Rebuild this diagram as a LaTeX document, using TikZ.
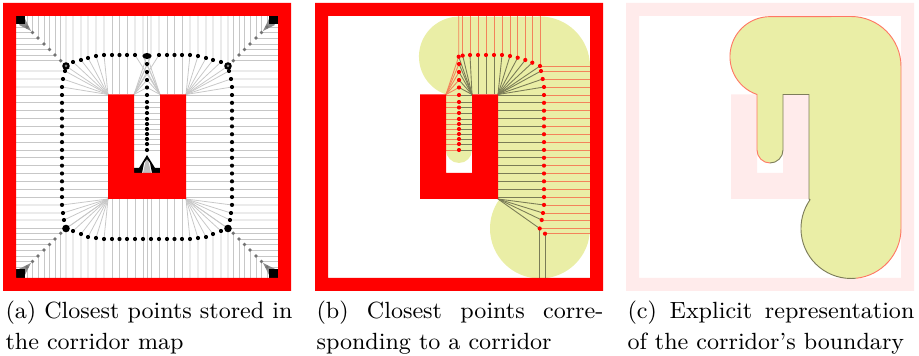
\documentclass[tikz,border=0pt]{standalone}
\definecolor{wallred}{RGB}{255,0,0}
\definecolor{wallpink}{RGB}{255,235,235}
\definecolor{corridoryellow}{RGB}{234,238,166}
\definecolor{edgered}{RGB}{255,120,100}
\definecolor{edgedark}{RGB}{125,125,90}
\tikzset{closest/.style={draw=black!22,line width=0.3pt},
         leftline/.style={draw=red!45!corridoryellow,line width=0.34pt},
         rightline/.style={draw=black!48!corridoryellow,line width=0.34pt},
         captiontext/.style={anchor=north west,inner sep=0pt,text width=111.2pt,align=justify,font=\fontsize{9.08}{12}\selectfont}}
\newcommand{\worldwalls}[1]{\fill[#1,even odd rule] (3,3) rectangle (291,291) (16,16) rectangle (278,278);
    \fill[#1] (108,94.5) -- (134,94.5) -- (134,173) -- (160,173) -- (160,94.5) -- (186,94.5) -- (186,199) -- (108,199) -- cycle;}
\newcommand{\edgeleft}{(147,163) arc (90:180:13) -- (134,94.5) arc (108.9:270:40) -- (228,16.5) arc (270:360:50) -- (278,228.5) arc (0:84:50)}
\newcommand{\edgeright}{(233.2,278.2) arc (84:215:50) -- (186,199) -- (186,94.5) -- (160,94.5) -- (160,150) arc (0:90:13)}
\newcommand{\corridorshape}{(147,163) arc (90:180:13) -- (134,94.5) arc (108.9:270:40) -- (228,16.5) arc (270:360:50) -- (278,228.5) arc (0:215:50) -- (186,199) -- (186,94.5) -- (160,94.5) -- (160,150) arc (0:90:13) -- cycle}
\begin{document}
\begin{tikzpicture}[x=0.3876pt,y=-0.3876pt]
  \useasboundingbox (0,0) rectangle (919,356);
  % closest points stored in the map
  \foreach \m in {-1,1} {
    \foreach \y in {95,102.85,...,197.1} \draw[closest] ({147+\m*131},\y) -- ({147+\m*39},\y);
    \foreach \d/\y in {82/71,84/79,85/87} \draw[closest] ({147+\m*131},\y) -- ({147+\m*\d},\y) -- ({147+\m*39},94.5);
    \foreach \d/\y in {85/205,84/213,83/220,81/228.5} \draw[closest] ({147+\m*131},\y) -- ({147+\m*\d},\y) -- ({147+\m*39},199);
    \foreach \d/\y in {81/66,74/62,66/60,59/58,51/56,43/55} \draw[closest] ({147+\m*\d},16) -- ({147+\m*\d},\y) -- ({147+\m*39},94.5);
    \foreach \d in {35,27.5,20} \draw[closest] ({147+\m*\d},16) -- ({147+\m*\d},94.5);
    \foreach \d/\y in {12/55,4/56} \draw[closest] ({147+\m*\d},16) -- ({147+\m*\d},\y) -- ({147-\m*13},94.5);
    \foreach \d/\y in {81/228.5,74/231,66/234,59/237,51/238,43/239} \draw[closest] ({147+\m*\d},278) -- ({147+\m*\d},\y) -- ({147+\m*39},199);
    \foreach \d in {35,27.5,20,12,4} \draw[closest] ({147+\m*\d},278) -- ({147+\m*\d},199);
    \foreach \v in {-1,1} \foreach \t in {27,32.5,38,44,49.5,55,60.7} {
      \draw[closest] ({147+\m*131},{147+\v*(147-\t)}) -- ({147+\m*(147-\t)},{147+\v*(147-\t)}) -- ({147+\m*(147-\t)},{147+\v*131});
    }
  }
  \foreach \y in {56,64,72,80,87.5} \draw[closest] (134,94.5) -- (147,\y) -- (160,94.5);
  \draw[closest] (147,16) -- (147,56);
  \draw[closest] (147,199) -- (147,278);
  \foreach \y in {95,102,107.5,113,119,124,129,134,139,144,150} \draw[closest] (134,\y) -- (160,\y);
  % end of the slot and the four corners
  \fill[black!25] (147,155) -- (143,173) -- (151,173) -- cycle;
  \fill[black] (134,173) -- (134,168) -- (139,168) -- (147,155) -- (155,168) -- (160,168) -- (160,173) -- (152,173) -- (150,163) -- (147,159) -- (144,163) -- (142,173) -- cycle;
  \foreach \m in {-1,1} \foreach \v in {-1,1} {
    \fill[black!45] ({147+\m*116},{147+\v*116}) -- ({147+\m*122},{147+\v*128}) -- ({147+\m*128},{147+\v*122}) -- cycle;
    \fill[black] ({147+\m*131},{147+\v*131}) rectangle ({147+\m*122},{147+\v*122.5});
  }
  \worldwalls{wallred}
  % the points themselves
  \foreach \m in {-1,1} {
    \foreach \y in {95,102.85,...,205.1} \fill ({147+\m*85},\y) circle[radius=2.1];
    \foreach \d/\y in {82/71,84/79,85/87,84/213,83/220} \fill ({147+\m*\d},\y) circle[radius=2.1];
    \foreach \d/\y in {74/62,66/60,59/58,51/56,43/55,35/55,27.5/55,20/55,12/55} \fill ({147+\m*\d},\y) circle[radius=2.1];
    \foreach \d/\y in {74/231,66/234,59/237,51/238,43/239,35/239,27.5/239,20/239,12/239,4/239} \fill ({147+\m*\d},\y) circle[radius=2.1];
    \fill ({147+\m*81},228.5) circle[radius=3.8];
    \fill ({147+\m*81},66) circle[radius=3.8];
    \fill[black!50] ({147+\m*81},66) circle[radius=1.5];
    \foreach \v in {-1,1} \foreach \t in {27,32.5,38,44,49.5,55,60.7}
      \fill[black!55] ({147+\m*(147-\t)},{147+\v*(147-\t)}) circle[radius=1.9];
  }
  \foreach \y in {64,72,80,87.5,95,102,107.5,113,119,124,129,134,139,144,150} \fill (147,\y) circle[radius=2.1];
  \fill (147,56) ellipse[x radius=4.6,y radius=3];
  % closest points of one corridor
  \begin{scope}[shift={(312,0)}]
    \fill[corridoryellow] \corridorshape;
    \foreach \y in {95,102.85,...,197.1} {
      \draw[rightline] (186,\y) -- (232,\y);
      \draw[leftline] (232,\y) -- (278,\y);
    }
    \foreach \x/\y in {229/71,230.7/79,232/87} {
      \draw[leftline] (278,\y) -- (\x,\y);
      \draw[rightline] (\x,\y) -- (186,94.5);
    }
    \foreach \x/\y in {232/205,231/213,229.7/220,227.7/228.5} {
      \draw[leftline] (278,\y) -- (\x,\y);
      \draw[rightline] (\x,\y) -- (186,199);
    }
    \draw[leftline] (278,66) -- (228,66);
    \draw[leftline] (278,233.7) -- (233,233.7);
    \draw[rightline] (233,233.7) -- (233,278);
    \draw[rightline] (227.7,228.5) -- (227.7,278);
    \foreach \x/\y in {150.7/55.6,158/55} {
      \draw[leftline] (\x,16) -- (\x,\y);
      \draw[rightline] (\x,\y) -- (160,94.5);
    }
    \foreach \x/\y in {166/55,174/55,182/55} {
      \draw[leftline] (\x,16) -- (\x,\y);
      \draw[rightline] (\x,\y) -- (\x,94.5);
    }
    \foreach \x/\y in {190/55,198/56,205.7/57.7,213.3/60,220.3/62.7,228/66} {
      \draw[leftline] (\x,16) -- (\x,\y);
      \draw[rightline] (\x,\y) -- (186,94.5);
    }
    \draw[leftline] (146.7,16) -- (146.7,56.7) -- (134,94.5);
    \draw[rightline] (146.7,56.7) -- (160,94.5);
    \foreach \y in {64,72,80,87.5} {
      \draw[leftline] (134,94.5) -- (147,\y);
      \draw[rightline] (147,\y) -- (160,94.5);
    }
    \foreach \y in {95,102,107.5,113,119,124,129,134,139,144,150} {
      \draw[leftline] (134,\y) -- (147,\y);
      \draw[rightline] (147,\y) -- (160,\y);
    }
    \worldwalls{wallred}
    \foreach \x/\y in {146.7/56.7,150.7/55.6,158/55,166/55,174/55,182/55,190/55,198/56,205.7/57.7,213.3/60,220.3/62.7,228/66,229/71,230.7/79,232/87,231/213,229.7/220,227.7/228.5,233/233.7}
      \fill[wallred] (\x,\y) circle[radius=2.1];
    \foreach \y in {95,102.85,...,205.1} \fill[wallred] (232,\y) circle[radius=2.1];
    \foreach \y in {64,72,80,87.5,95,102,107.5,113,119,124,129,134,139,144,150} \fill[wallred] (147,\y) circle[radius=2.1];
  \end{scope}
  % explicit boundary
  \begin{scope}[shift={(623,0)}]
    \worldwalls{wallpink}
    \fill[corridoryellow] \corridorshape;
    \draw[edgered,line width=0.36pt] \edgeleft;
    \draw[edgedark,line width=0.36pt] \edgeright;
  \end{scope}
  % captions
  \node[captiontext] (capa) at (5,300) {\makebox[\linewidth][s]{(a) Closest points stored in}\\the corridor map};
  \node[captiontext] (capb) at (316,300) {\makebox[\linewidth][s]{(b) Closest points corre-}\\sponding to a corridor};
  \node[captiontext] (capc) at (627,300) {\makebox[\linewidth][s]{(c) Explicit representation}\\of the corridor's boundary};
\end{tikzpicture}
\end{document}
